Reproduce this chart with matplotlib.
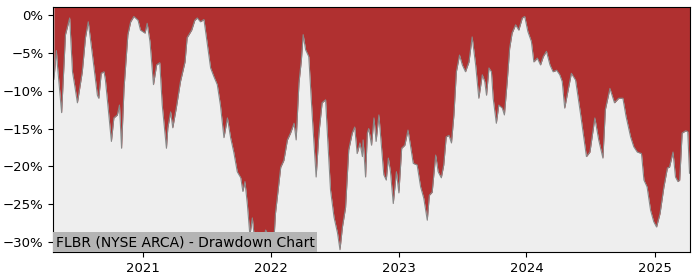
import matplotlib
matplotlib.use("Agg")
from matplotlib import pyplot as plt
import matplotlib.dates as mdates
from matplotlib.ticker import PercentFormatter
import pandas as pd

# Drawdown values (%)
dates = [
    "2020-04-23", "2020-04-30", "2020-05-03", "2020-05-15", "2020-05-26", "2020-06-07",
    "2020-06-15", "2020-06-21", "2020-06-29", "2020-07-13", "2020-07-22", "2020-07-30",
    "2020-08-11", "2020-08-25", "2020-08-29", "2020-09-05", "2020-09-13", "2020-09-17",
    "2020-09-24", "2020-10-04", "2020-10-11", "2020-10-21", "2020-10-27", "2020-11-02",
    "2020-11-09", "2020-11-20", "2020-11-28", "2020-12-07", "2020-12-19", "2020-12-26",
    "2021-01-08", "2021-01-14", "2021-01-22", "2021-02-01", "2021-02-10", "2021-02-19",
    "2021-02-26", "2021-03-10", "2021-03-14", "2021-03-22", "2021-03-28", "2021-04-07",
    "2021-04-19", "2021-05-02", "2021-05-08", "2021-05-21", "2021-05-30", "2021-06-06",
    "2021-06-15", "2021-06-25", "2021-07-05", "2021-07-14", "2021-07-23", "2021-08-02",
    "2021-08-11", "2021-08-21", "2021-08-31", "2021-09-09", "2021-09-18", "2021-09-28",
    "2021-10-08", "2021-10-14", "2021-10-20", "2021-10-27", "2021-11-03", "2021-11-10",
    "2021-11-16", "2021-11-24", "2021-12-01", "2021-12-08", "2021-12-18", "2022-01-01",
    "2022-01-09", "2022-01-15", "2022-01-30", "2022-02-08", "2022-02-18", "2022-02-27",
    "2022-03-09", "2022-03-15", "2022-03-23", "2022-03-30", "2022-04-04", "2022-04-11",
    "2022-04-20", "2022-04-30", "2022-05-11", "2022-05-19", "2022-05-28", "2022-06-07",
    "2022-06-12", "2022-06-21", "2022-07-01", "2022-07-11", "2022-07-18", "2022-07-25",
    "2022-08-03", "2022-08-12", "2022-08-22", "2022-08-29", "2022-09-05", "2022-09-13",
    "2022-09-20", "2022-09-22", "2022-09-29", "2022-10-04", "2022-10-08", "2022-10-16",
    "2022-10-23", "2022-10-29", "2022-11-06", "2022-11-13", "2022-11-20", "2022-11-27",
    "2022-12-03", "2022-12-09", "2022-12-17", "2022-12-26", "2023-01-02", "2023-01-10",
    "2023-01-19", "2023-01-28", "2023-02-04", "2023-02-12", "2023-02-23", "2023-03-05",
    "2023-03-14", "2023-03-24", "2023-03-30", "2023-04-07", "2023-04-17", "2023-04-24",
    "2023-05-03", "2023-05-10", "2023-05-17", "2023-05-25", "2023-06-01", "2023-06-08",
    "2023-06-15", "2023-06-24", "2023-07-02", "2023-07-11", "2023-07-21", "2023-07-30",
    "2023-08-09", "2023-08-18", "2023-08-28", "2023-09-04", "2023-09-09", "2023-09-16",
    "2023-09-23", "2023-09-28", "2023-10-07", "2023-10-14", "2023-10-24", "2023-10-30",
    "2023-11-07", "2023-11-14", "2023-11-21", "2023-12-01", "2023-12-10", "2023-12-20",
    "2023-12-27", "2024-01-05", "2024-01-15", "2024-01-22", "2024-02-01", "2024-02-10",
    "2024-02-18", "2024-02-27", "2024-03-08", "2024-03-17", "2024-03-27", "2024-04-05",
    "2024-04-12", "2024-04-19", "2024-04-28", "2024-05-08", "2024-05-20", "2024-06-03",
    "2024-06-20", "2024-06-30", "2024-07-14", "2024-07-25", "2024-08-06", "2024-08-13",
    "2024-08-26", "2024-09-08", "2024-09-20", "2024-10-02", "2024-10-11", "2024-10-24",
    "2024-11-02", "2024-11-12", "2024-11-24", "2024-12-01", "2024-12-10", "2024-12-20",
    "2024-12-29", "2025-01-06", "2025-01-16", "2025-01-27", "2025-02-06", "2025-02-12",
    "2025-02-22", "2025-03-01", "2025-03-08", "2025-03-13", "2025-03-20", "2025-03-30",
    "2025-04-05", "2025-04-10",
]
drawdown = [
    -8.5, -4.7, -6.6, -12.9, -2.6, -0.4,
    -7.5, -9.2, -11.6, -7.5, -3.0, -0.9,
    -5.3, -10.6, -11.0, -7.7, -7.5, -8.6,
    -11.9, -16.7, -13.6, -13.2, -11.9, -17.6,
    -9.7, -2.6, -0.9, -0.2, -0.7, -2.0,
    -2.4, -1.1, -3.5, -9.2, -6.6, -6.3,
    -11.9, -17.6, -14.9, -12.8, -14.9, -12.3,
    -8.8, -6.2, -3.0, -2.0, -0.7, -0.4,
    -0.9, -0.6, -4.0, -7.0, -8.1, -9.2,
    -11.9, -16.2, -13.6, -16.2, -18.1, -20.7,
    -21.5, -23.3, -22.0, -25.1, -29.1, -26.8,
    -29.5, -28.7, -29.5, -30.6, -28.4, -29.7,
    -31.0, -26.2, -20.1, -19.2, -16.5, -15.6,
    -14.3, -16.5, -9.0, -5.9, -2.6, -4.6,
    -5.5, -13.4, -21.4, -15.6, -11.6, -11.2,
    -15.6, -23.1, -26.7, -28.8, -31.0, -28.0,
    -25.4, -17.8, -15.6, -14.8, -18.3, -16.9,
    -18.7, -16.5, -21.4, -15.6, -15.0, -17.2,
    -13.6, -16.7, -13.2, -17.2, -21.1, -21.8,
    -18.9, -20.7, -24.9, -20.7, -23.5, -17.6,
    -17.2, -15.2, -17.2, -19.6, -19.8, -22.7,
    -24.2, -27.1, -23.8, -23.4, -18.5, -20.7,
    -21.5, -19.8, -16.1, -15.9, -16.9, -13.2,
    -7.5, -5.3, -6.6, -7.5, -6.2, -2.9,
    -6.6, -11.0, -7.9, -8.8, -10.6, -7.0,
    -7.5, -11.0, -14.3, -11.9, -12.3, -13.2,
    -8.8, -4.4, -2.4, -1.3, -2.0, -0.4,
    -0.2, -2.2, -3.5, -6.2, -5.7, -6.6,
    -5.5, -4.8, -6.6, -7.5, -7.3, -7.9,
    -8.8, -12.3, -10.1, -7.7, -8.6, -13.0,
    -18.7, -18.1, -13.6, -16.5, -18.9, -12.5,
    -9.7, -11.6, -11.0, -11.0, -13.4, -16.1,
    -17.4, -18.1, -18.3, -21.8, -22.7, -25.8,
    -27.3, -28.0, -26.2, -22.7, -20.2, -20.1,
    -18.1, -21.4, -22.0, -21.8, -15.6, -15.3,
    -15.4, -20.9,
]
title = "FLBR (NYSE ARCA) - Drawdown Chart"

d = pd.to_datetime(dates)
y_top = 1.05

fig = plt.figure(figsize=(7, 2.8), dpi=100)
ax = fig.add_axes([0.076, 0.1, 0.91, 0.875])
ax.set_facecolor("#eeeeee")

# red area from the drawdown line up to the top of the plot
ax.fill_between(d, drawdown, y_top, color="#b03030", linewidth=0)
ax.plot(d, drawdown, color="#888888", linewidth=0.8)

ax.set_xlim(pd.Timestamp("2020-04-21"), pd.Timestamp("2025-04-12"))
ax.set_ylim(-31.3, y_top)
ax.set_yticks([0, -5, -10, -15, -20, -25, -30])
ax.yaxis.set_major_formatter(PercentFormatter(decimals=0))
ax.xaxis.set_major_locator(mdates.YearLocator())
ax.xaxis.set_major_formatter(mdates.DateFormatter("%Y"))
ax.tick_params(labelsize=9.5)

ax.text(0.004, 0.012, title, transform=ax.transAxes, fontsize=10,
        ha="left", va="bottom",
        bbox=dict(facecolor="#b4b4b4", edgecolor="none", pad=2))

fig.savefig("out.png", dpi=100)
